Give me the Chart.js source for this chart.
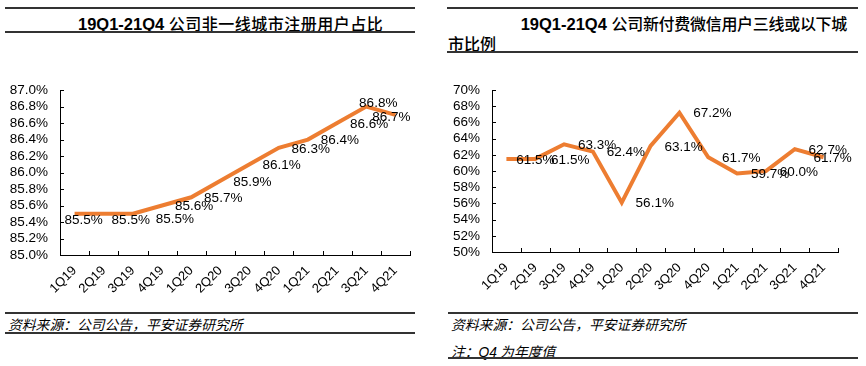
<!DOCTYPE html>
<html>
<head>
<meta charset="utf-8">
<script src="https://cdn.jsdelivr.net/npm/chart.js@4.4.0/dist/chart.umd.min.js"></script>
<style>
  body { margin: 0; background: #fff; width: 866px; height: 366px; position: relative; overflow: hidden;
         font-family: "Liberation Sans", Arial, "Noto Sans CJK SC", sans-serif; color: #000; }
  .rule { position: absolute; height: 2px; background: #333; }
  .title { position: absolute; font-size: 16.5px; line-height: 20px; white-space: nowrap; }
  .title b { font-weight: bold; }
  .title span { font-family: "Noto Sans CJK SC", sans-serif; font-weight: 500; font-size: 16px; }
  .note { position: absolute; font-family: "Noto Sans CJK SC", sans-serif; font-style: italic;
          font-size: 13.8px; line-height: 18px; white-space: nowrap; }
  .note b { font-family: "Liberation Sans", Arial, sans-serif; font-weight: normal; }
  .box { position: absolute; }
</style>
</head>
<body>
<!-- left panel header -->
<div class="rule" style="left:5px;top:7px;width:410px"></div>
<div class="title" style="left:78px;top:13px"><b>19Q1-21Q4</b> <span style="letter-spacing:0.5px">公司非一线城市注册用户占比</span></div>
<div class="rule" style="left:5px;top:31px;width:410px"></div>

<!-- right panel header -->
<div class="rule" style="left:447px;top:7px;width:411px"></div>
<div class="title" style="right:19px;top:13px"><b>19Q1-21Q4</b> <span style="letter-spacing:-0.3px">公司新付费微信用户三线或以下城</span></div>
<div class="title" style="left:448px;top:33px"><span>市比例</span></div>
<div class="rule" style="left:447px;top:51px;width:411px"></div>

<div class="box" style="left:0;top:70px;width:430px;height:240px"><canvas id="left-chart"></canvas></div>
<div class="box" style="left:430px;top:70px;width:436px;height:240px"><canvas id="right-chart"></canvas></div>

<!-- footers -->
<div class="rule" style="left:5px;top:312px;width:410px"></div>
<div class="note" style="left:8px;top:315px">资料来源：公司公告，平安证券研究所</div>
<div class="rule" style="left:5px;top:332px;width:410px"></div>

<div class="rule" style="left:448px;top:312px;width:410px"></div>
<div class="note" style="left:451px;top:315px">资料来源：公司公告，平安证券研究所</div>
<div class="note" style="left:451px;top:342px">注：<b>Q4</b> 为年度值</div>
<div class="rule" style="left:448px;top:357px;width:410px"></div>

<script>
const quarters = ['1Q19', '2Q19', '3Q19', '4Q19', '1Q20', '2Q20', '3Q20', '4Q20', '1Q21', '2Q21', '3Q21', '4Q21'];
// non first-tier city share of registered users (%)
const nonTier1Share = [85.5, 85.5, 85.5, 85.6, 85.7, 85.9, 86.1, 86.3, 86.4, 86.6, 86.8, 86.7];
// share of new paying WeChat users in tier-3 and below cities (%)
const lowTierShare = [61.5, 61.5, 63.3, 62.4, 56.1, 63.1, 67.2, 61.7, 59.7, 60.0, 62.7, 61.7];

const ORANGE = '#ED7D31';

Chart.defaults.font.family = '"Liberation Sans", Arial, sans-serif';
Chart.defaults.font.size = 13;
Chart.defaults.color = '#000';

// value labels next to each point
const valueLabels = {
  id: 'valueLabels',
  afterDatasetsDraw(chart, args, opts) {
    const ctx = chart.ctx;
    const ds = chart.data.datasets[0];
    const meta = chart.getDatasetMeta(0);
    ctx.save();
    ctx.font = '13.5px "Liberation Sans", Arial, sans-serif';
    ctx.fillStyle = '#000';
    ctx.textAlign = 'center';
    ctx.textBaseline = 'middle';
    meta.data.forEach((pt, i) => {
      const off = (opts.offsets && opts.offsets[i]) || opts.offset;
      ctx.fillText(ds.data[i].toFixed(1) + '%', pt.x + off[0], pt.y + off[1]);
    });
    ctx.restore();
  }
};

// small tick marks pointing into the plot
const innerTicks = {
  id: 'innerTicks',
  afterDraw(chart) {
    const ctx = chart.ctx;
    const x = chart.scales.x, y = chart.scales.y;
    ctx.save();
    ctx.strokeStyle = '#000';
    ctx.lineWidth = 1;
    ctx.beginPath();
    const n = chart.data.labels.length;
    for (let i = 0; i <= n; i++) {
      const px = Math.round(x.left + i * x.width / n) + 0.5;
      ctx.moveTo(px, y.bottom);
      ctx.lineTo(px, y.bottom - 4);
    }
    y.ticks.forEach(t => {
      const py = Math.round(y.getPixelForValue(t.value)) + 0.5;
      ctx.moveTo(x.left, py);
      ctx.lineTo(x.left + 4, py);
    });
    ctx.stroke();
    ctx.restore();
  }
};

function makeChart(id, data, yMin, yMax, step, digits, pad, yWidth, labelOpts) {
  return new Chart(document.getElementById(id).getContext('2d'), {
    type: 'line',
    data: {
      labels: quarters,
      datasets: [{
        data: data,
        borderColor: ORANGE,
        borderWidth: 4,
        pointRadius: 0,
        tension: 0,
        borderJoinStyle: 'miter',
        borderCapStyle: 'butt'
      }]
    },
    options: {
      responsive: false,
      animation: false,
      layout: { padding: pad },
      plugins: {
        legend: { display: false },
        tooltip: { enabled: false },
        valueLabels: labelOpts
      },
      scales: {
        x: {
          offset: true,
          grid: { display: false, drawTicks: false },
          border: { display: true, color: '#000', width: 1 },
          ticks: { minRotation: 45, maxRotation: 45, padding: 8, autoSkip: false },
          afterFit: s => { s.height = 58; }
        },
        y: {
          min: yMin,
          max: yMax,
          grid: { display: false, drawTicks: false },
          border: { display: true, color: '#000', width: 1 },
          ticks: { stepSize: step, padding: 12, autoSkip: false, font: { size: 13.5 },
                   callback: v => v.toFixed(digits) + '%' },
          afterFit: s => { s.width = yWidth; }
        }
      }
    },
    plugins: [valueLabels, innerTicks]
  });
}

function sizeCanvas(id, w, h) {
  const c = document.getElementById(id);
  c.width = w; c.height = h;
  c.style.width = w + 'px'; c.style.height = h + 'px';
}
sizeCanvas('left-chart', 430, 240);
sizeCanvas('right-chart', 436, 240);

var leftChart = makeChart('left-chart', nonTier1Share, 85, 87, 0.2, 1,
  { left: 0, top: 13, right: 20, bottom: -3 }, 60,
  { offset: [32, 1],
    offsets: [[9, 7], [27, 7], [42, 6], null, null, null, null, null, null, null, [12, -3], [-4, 2]] });

var rightChart = makeChart('right-chart', lowTierShare, 50, 70, 2, 0,
  { left: 0, top: 18, right: 28, bottom: 0 }, 62,
  { offset: [33, 1],
    offsets: [[29, 1], [35, 1], null, null, null, null, null, null, null, null, null, [9, 1]] });
</script>
</body>
</html>
